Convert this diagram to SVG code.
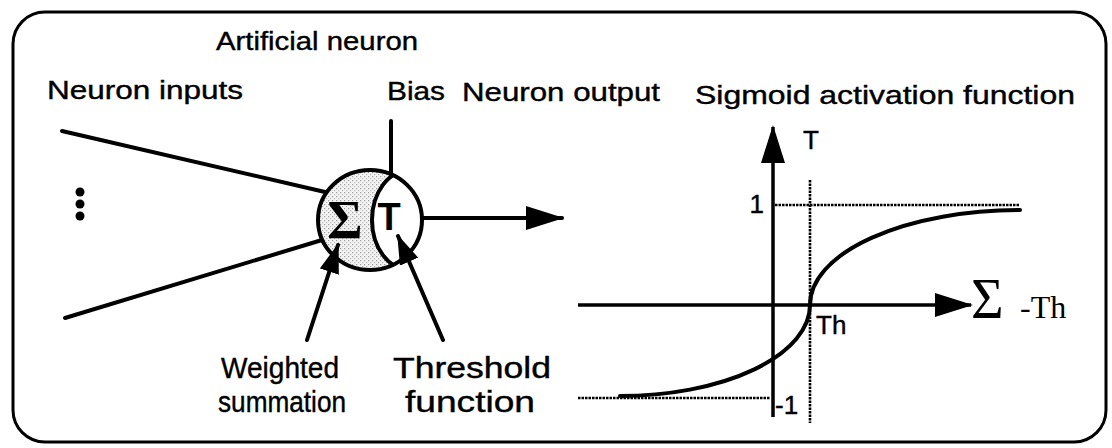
<svg xmlns="http://www.w3.org/2000/svg" width="1112" height="448" viewBox="0 0 1112 448">
<style>
.lbl{font-family:"Liberation Sans",Arial,sans-serif;font-size:26px;fill:#000;stroke:#000;stroke-width:0.4}
.big{font-size:29px}
.ln{stroke:#000;stroke-width:4;fill:none;stroke-linecap:round}
.ax{stroke:#000;stroke-width:3.5;fill:none}
.dot{stroke:#000;stroke-width:2.6;fill:none;stroke-dasharray:2.5 1}
.sym{font-family:"Liberation Serif","Times New Roman",serif;fill:#000}
</style>
<defs>
<marker id="ah" markerUnits="userSpaceOnUse" viewBox="0 0 38 24" markerWidth="38" markerHeight="24" refX="36" refY="12" orient="auto">
<path d="M0 0 L38 12 L0 24 Z" fill="#000"/>
</marker>
<marker id="ahs" markerUnits="userSpaceOnUse" viewBox="0 0 30 20" markerWidth="30" markerHeight="20" refX="28" refY="10" orient="auto">
<path d="M0 0 L30 10 L0 20 Z" fill="#000"/>
</marker>
<pattern id="stip" patternUnits="userSpaceOnUse" width="4" height="4">
<rect width="4" height="4" fill="#f4f4f4"/>
<rect x="0" y="0" width="1.2" height="1.2" fill="#9a9a9a"/>
<rect x="2" y="2" width="1.2" height="1.2" fill="#b5b5b5"/>
</pattern>
<clipPath id="outerClip"><ellipse cx="370" cy="220" rx="52" ry="50"/></clipPath>
</defs>

<rect id="frame" x="13" y="12" width="1093" height="430" rx="32" ry="32" fill="none" stroke="#000" stroke-width="3"/>

<g id="title"><text class="lbl" x="216" y="50" textLength="202" lengthAdjust="spacingAndGlyphs">Artificial neuron</text></g>
<g id="inputs-label"><text class="lbl" x="47" y="99" textLength="196" lengthAdjust="spacingAndGlyphs">Neuron inputs</text></g>
<g id="bias-label"><text class="lbl" x="387" y="100" textLength="58" lengthAdjust="spacingAndGlyphs">Bias</text></g>
<g id="output-label"><text class="lbl" x="462" y="101" textLength="198" lengthAdjust="spacingAndGlyphs">Neuron output</text></g>
<g id="sigmoid-label"><text class="lbl" x="695" y="104" textLength="380" lengthAdjust="spacingAndGlyphs">Sigmoid activation function</text></g>

<g id="neuron">
<ellipse cx="370" cy="220" rx="52" ry="50" fill="url(#stip)"/>
<ellipse cx="410" cy="220" rx="38" ry="50" fill="#fff" clip-path="url(#outerClip)"/>
<ellipse cx="410" cy="220" rx="38" ry="50" fill="none" stroke="#000" stroke-width="4" clip-path="url(#outerClip)"/>
<ellipse cx="370" cy="220" rx="52" ry="50" fill="none" stroke="#000" stroke-width="4"/>
<text class="sym" x="345" y="238" font-size="54" text-anchor="middle" font-weight="bold">Σ</text>
<text x="389" y="230" font-family="Liberation Sans,Arial,sans-serif" font-size="38" font-weight="bold" text-anchor="middle">T</text>
</g>

<g id="input-dots">
<circle cx="80" cy="192" r="4.5"/>
<circle cx="80" cy="204" r="4.5"/>
<circle cx="80" cy="216" r="4.5"/>
</g>

<g id="weighted-label">
<text class="lbl big" x="221" y="378" textLength="118" lengthAdjust="spacingAndGlyphs">Weighted</text>
<text class="lbl big" x="218" y="412" textLength="128" lengthAdjust="spacingAndGlyphs">summation</text>
</g>
<g id="threshold-label">
<text class="lbl big" x="393" y="378" textLength="158" lengthAdjust="spacingAndGlyphs">Threshold</text>
<text class="lbl big" x="405" y="412" textLength="130" lengthAdjust="spacingAndGlyphs">function</text>
</g>

<g id="connectors">
<line class="ln" x1="62" y1="131" x2="325" y2="192" stroke-width="4.5"/>
<line class="ln" x1="65" y1="318" x2="322" y2="240" stroke-width="4.5"/>
<line class="ln" x1="391" y1="121" x2="391" y2="174" stroke-width="3"/>
<line class="ln" x1="423" y1="218" x2="562" y2="218" stroke-width="3.5" marker-end="url(#ah)"/>
<line class="ln" x1="307" y1="340" x2="338" y2="245" marker-end="url(#ahs)"/>
<line class="ln" x1="443" y1="340" x2="398" y2="236" marker-end="url(#ahs)"/>
</g>

<g id="sigmoid-graph">
<line class="ax" x1="773" y1="417" x2="773" y2="127" marker-end="url(#ah)"/>
<line class="ax" x1="578" y1="305" x2="971" y2="305" marker-end="url(#ah)"/>
<line class="dot" x1="775" y1="205" x2="1020" y2="205"/>
<line class="dot" x1="810" y1="180" x2="810" y2="423"/>
<line class="dot" x1="578" y1="398" x2="770" y2="398"/>
<path class="ln" d="M810 305 A210 95 0 0 1 1020 210"/>
<path class="ln" d="M810 305 A190 91 0 0 1 620 396"/>
<text class="lbl" x="811" y="149" text-anchor="middle">T</text>
<text class="lbl" x="764" y="213" text-anchor="end">1</text>
<text class="lbl" x="775" y="414">-1</text>
<text class="lbl" x="816" y="334" font-size="19" stroke-width="0.2">Th</text>
<text class="sym" x="971" y="318" font-size="56">Σ</text>
<text class="sym" x="1020" y="318" font-size="32">-Th</text>
</g>
</svg>
